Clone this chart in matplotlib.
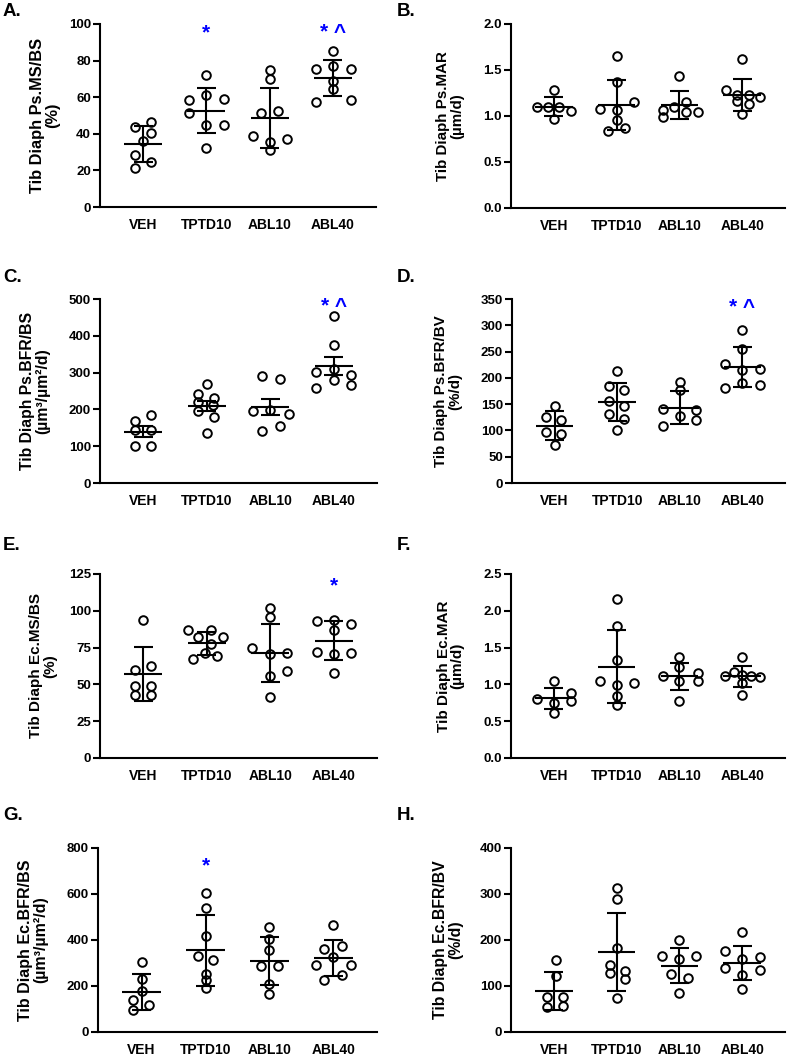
import matplotlib
matplotlib.use('Agg')
import matplotlib.pyplot as plt
import numpy as np
from matplotlib.ticker import FormatStrFormatter

plt.rcParams['font.family'] = ['Liberation Sans', 'DejaVu Sans']
plt.rcParams['font.weight'] = 'bold'

groups = ['VEH', 'TPTD10', 'ABL10', 'ABL40']

# ---------------- Panel A: Ps.MS/BS (%)
a_vals = [[43.9, 46.7, 40.3, 36.2, 28.5, 24.6, 21.1],
          [72.1, 58.3, 61.0, 59.2, 51.5, 45.0, 45.0, 32.5],
          [74.8, 69.9, 51.3, 52.2, 39.0, 35.3, 37.1, 31.1],
          [85.5, 75.2, 77.0, 75.6, 68.9, 64.7, 57.5, 58.6]]
a_mean = [34.4, 52.6, 48.8, 70.4]
a_err = [9.75, 12.3, 16.3, 9.7]

# ---------------- Panel B: Ps.MAR (um/d)
b_vals = [[1.286, 1.098, 1.098, 1.098, 1.051, 0.971],
          [1.649, 1.370, 1.080, 1.062, 1.152, 0.953, 0.833, 0.870],
          [1.438, 1.069, 1.098, 1.149, 0.989, 1.040, 1.040],
          [1.620, 1.279, 1.232, 1.232, 1.203, 1.159, 1.130, 1.022]]
b_mean = [1.10, 1.12, 1.12, 1.23]
b_err = [0.104, 0.276, 0.153, 0.172]

# ---------------- Panel C: Ps.BFR/BS
c_vals = [[167.6, 183.9, 144.9, 144.9, 101.4, 101.4],
          [270.0, 242.0, 232.0, 220.0, 212.0, 195.0, 180.0, 137.0],
          [291.7, 282.6, 194.7, 197.5, 187.5, 140.4, 155.8],
          [454.7, 375.9, 301.6, 310.7, 292.6, 258.2, 280.8, 265.4]]
c_mean = [139.5, 210.1, 207.5, 318.0]
c_err = [14.5, 13.6, 21.8, 23.6]

# ---------------- Panel D: Ps.BFR/BV
d_vals = [[147.1, 125.6, 119.2, 96.4, 93.8, 71.7],
          [213.7, 185.2, 176.3, 156.6, 145.8, 131.9, 122.4, 101.5],
          [192.1, 177.6, 140.8, 138.2, 126.8, 107.8, 120.5],
          [290.4, 255.5, 226.4, 215.6, 217.5, 180.7, 190.2, 185.8]]
d_mean = [108.8, 153.8, 143.3, 220.4]
d_err = [27.6, 36.5, 31.1, 37.8]

# ---------------- Panel E: Ec.MS/BS (%)
e_vals = [[94.0, 60.0, 62.7, 48.7, 48.7, 43.0, 43.0],
          [87.2, 86.7, 82.2, 82.2, 77.4, 71.3, 69.1, 67.3],
          [101.9, 95.8, 74.7, 70.9, 71.3, 55.9, 59.3, 41.4],
          [93.3, 93.5, 91.3, 87.2, 71.8, 70.9, 71.3, 57.7]]
e_mean = [57.0, 77.9, 71.3, 79.6]
e_err = [18.5, 7.7, 20.0, 13.3]

# ---------------- Panel F: Ec.MAR (um/d)
f_vals = [[1.050, 0.795, 0.750, 0.886, 0.777, 0.614],
          [2.164, 1.800, 1.332, 1.050, 1.023, 0.991, 0.841, 0.718],
          [1.377, 1.241, 1.114, 1.159, 1.050, 1.045, 0.773],
          [1.377, 1.173, 1.118, 1.127, 1.114, 1.095, 1.014, 0.855]]
f_mean = [0.812, 1.241, 1.109, 1.112]
f_err = [0.143, 0.50, 0.186, 0.144]

# ---------------- Panel G: Ec.BFR/BS
g_vals = [[304.3, 230.4, 176.8, 140.6, 97.1, 115.9],
          [604.0, 539.0, 419.0, 332.0, 312.0, 254.0, 228.0, 191.0],
          [455.1, 405.8, 355.1, 285.5, 285.5, 210.1, 166.7],
          [466.7, 362.3, 375.4, 324.6, 292.8, 289.9, 224.6, 249.3]]
g_mean = [175.4, 355.8, 309.4, 323.2]
g_err = [78.3, 154.4, 103.6, 78.3]

# ---------------- Panel H: Ec.BFR/BV
h_vals = [[157.2, 121.0, 75.4, 75.4, 54.3, 57.2],
          [313.0, 289.1, 182.6, 146.4, 133.3, 128.3, 115.2, 73.9],
          [199.3, 165.9, 159.4, 165.9, 126.8, 117.4, 84.8],
          [216.7, 176.8, 159.4, 162.3, 139.1, 134.1, 123.2, 94.2]]
h_mean = [89.5, 173.5, 144.5, 150.7]
h_err = [40.9, 85.2, 38.1, 37.0]

# significance marks: (group index, height, text)
a_sig = [(1, 97.8, '*'), (3, 97.8, '* ^')]
c_sig = [(3, 493.6, '* ^')]
d_sig = [(3, 344.0, '* ^')]
e_sig = [(3, 120.0, '*')]
g_sig = [(1, 742.0, '*')]

# horizontal scatter offsets of the points (layout)
a_jit = [[-0.13, 0.12, 0.12, 0, -0.13, 0.12, -0.13],
         [0, -0.28, 0, 0.28, -0.28, 0, 0.28, 0],
         [0, 0, -0.13, 0.13, -0.27, 0, 0.28, 0],
         [0, -0.27, 0, 0.28, 0, 0, -0.27, 0.28]]
b_jit = [[0, -0.27, -0.09, 0.09, 0.27, 0],
         [0, 0, -0.27, 0, 0.28, 0, -0.13, 0.14],
         [0, -0.26, -0.08, 0.1, -0.26, 0.1, 0.29],
         [0, -0.26, -0.08, 0.1, 0.29, -0.08, 0.1, 0]]
c_jit = [[-0.13, 0.12, -0.13, 0.12, -0.13, 0.12],
         [0, -0.13, 0.12, -0.13, 0.1, -0.13, 0.12, 0],
         [-0.13, 0.15, -0.27, 0, 0.29, -0.13, 0.15],
         [0, 0, -0.28, 0, 0.27, -0.28, 0, 0.27]]
d_jit = [[0, -0.14, 0.11, -0.14, 0.11, 0],
         [0, -0.13, 0.11, -0.13, 0.11, -0.13, 0.11, 0],
         [0, 0, -0.27, 0.26, 0, -0.27, 0.26],
         [0, 0, -0.28, 0, 0.28, -0.28, 0, 0.28]]
e_jit = [[0, -0.13, 0.12, -0.13, 0.12, -0.13, 0.12],
         [-0.3, 0.06, -0.13, 0.25, 0.06, -0.03, 0.16, -0.21],
         [0, 0, -0.28, 0, 0.26, 0, 0.26, 0],
         [-0.26, 0, 0.27, 0, -0.26, 0, 0.27, 0]]
f_jit = [[0, -0.27, 0, 0.27, 0.27, 0],
         [0, 0, 0, -0.27, 0.28, 0, 0, 0],
         [0, 0, -0.26, 0.29, 0, 0.29, 0],
         [0, -0.13, -0.27, 0, 0.14, 0.28, 0, 0]]
g_jit = [[0, 0, 0, -0.13, -0.13, 0.11],
         [0, 0, 0, -0.12, 0.12, 0, 0, 0],
         [0, 0, 0, -0.13, 0.13, 0, 0],
         [0, -0.15, 0.13, 0, -0.28, 0.27, -0.15, 0.13]]
h_jit = [[0.03, 0.03, -0.1, 0.14, -0.1, 0.14],
         [0, 0, 0, -0.1, 0.13, -0.1, 0.13, 0],
         [0, -0.28, 0, 0.27, -0.13, 0.14, 0],
         [0, -0.27, 0, 0.28, -0.27, 0.28, 0, 0]]

W, H = 790, 1056
fig = plt.figure(figsize=(W / 100, H / 100), dpi=100)
fig.patch.set_facecolor('white')


def add_ax(l, t, r, b):
    return fig.add_axes([l / W, 1 - b / H, (r - l) / W, (b - t) / H])


panels = [
    ('A.', a_vals, a_jit, a_mean, a_err, 100, 20, '%d', 'Tib Diaph Ps.MS/BS\n(%)', (100, 24, 376, 207), -0.20, 11.8, a_sig, (3, 12)),
    ('B.', b_vals, b_jit, b_mean, b_err, 2.0, 0.5, '%.1f', 'Tib Diaph Ps.MAR\n(µm/d)', (511, 24, 785, 208), -0.222, 10.9, [], (397, 12)),
    ('C.', c_vals, c_jit, c_mean, c_err, 500, 100, '%d', 'Tib Diaph Ps.BFR/BS\n(µm³/µm²/d)', (100, 299, 377, 483), -0.235, 11.3, c_sig, (3, 278)),
    ('D.', d_vals, d_jit, d_mean, d_err, 350, 50, '%d', 'Tib Diaph Ps.BFR/BV\n(%/d)', (512, 299, 785, 483), -0.234, 10.9, d_sig, (397, 278)),
    ('E.', e_vals, e_jit, e_mean, e_err, 125, 25, '%d', 'Tib Diaph Ec.MS/BS\n(%)', (100, 574, 377, 758), -0.206, 11.0, e_sig, (3, 546)),
    ('F.', f_vals, f_jit, f_mean, f_err, 2.5, 0.5, '%.1f', 'Tib Diaph Ec.MAR\n(µm/d)', (511, 574, 785, 758), -0.22, 11.0, [], (397, 546)),
    ('G.', g_vals, g_jit, g_mean, g_err, 800, 200, '%d', 'Tib Diaph Ec.BFR/BS\n(µm³/µm²/d)', (98, 848, 377, 1032), -0.232, 11.5, g_sig, (3, 815)),
    ('H.', h_vals, h_jit, h_mean, h_err, 400, 100, '%d', 'Tib Diaph Ec.BFR/BV\n(%/d)', (511, 848, 785, 1032), -0.23, 11.4, [], (397, 815)),
]

for letter, vals, jit, means, errs, ymax, step, fmt, ylab, box, lx, lfs, sig, lpos in panels:
    ax = add_ax(*box)
    for i, (v, j) in enumerate(zip(vals, jit)):
        xs = [i + o for o in j]
        m, e = means[i], errs[i]
        ax.plot([i - 0.3, i + 0.3], [m, m], color='black', lw=1.5, solid_capstyle='butt', zorder=2)
        ax.plot([i, i], [m - e, m + e], color='black', lw=1.5, solid_capstyle='butt', zorder=2)
        ax.plot([i - 0.15, i + 0.15], [m + e, m + e], color='black', lw=1.5, solid_capstyle='butt', zorder=2)
        ax.plot([i - 0.15, i + 0.15], [m - e, m - e], color='black', lw=1.5, solid_capstyle='butt', zorder=2)
        ax.plot(xs, v, 'o', ms=6.2, mfc='none', mec='black', mew=1.4, zorder=3, clip_on=False)
    for gi, yv, txt in sig:
        ax.annotate(txt, xy=(gi, yv), xytext=(0, -7.5), textcoords='offset points',
                    ha='center', va='baseline', color='#0000FF', fontsize=15, fontweight='bold')
    ax.set_xlim(-0.68, 3.68)
    ax.set_ylim(0, ymax)
    ax.set_yticks(np.arange(0, ymax + step / 2, step))
    ax.yaxis.set_major_formatter(FormatStrFormatter(fmt))
    ax.set_xticks(range(4))
    ax.set_xticklabels(groups)
    for s in ['top', 'right']:
        ax.spines[s].set_visible(False)
    for s in ['left', 'bottom']:
        ax.spines[s].set_linewidth(1.5)
    ax.tick_params(axis='x', length=0, pad=8, labelsize=10)
    ax.tick_params(axis='y', length=5, width=1.5, pad=1.5, labelsize=9.5)
    for t in ax.get_xticklabels() + ax.get_yticklabels():
        t.set_fontweight('bold')
    ax.set_ylabel(ylab, fontsize=lfs, fontweight='bold', va='center',
                  multialignment='center', linespacing=1.0)
    ax.yaxis.set_label_coords(lx, 0.5)
    fig.text(lpos[0] / W, 1 - lpos[1] / H, letter, fontsize=13.5, fontweight='bold',
             ha='left', va='center')

fig.savefig('out.png', dpi=100, facecolor='white')
